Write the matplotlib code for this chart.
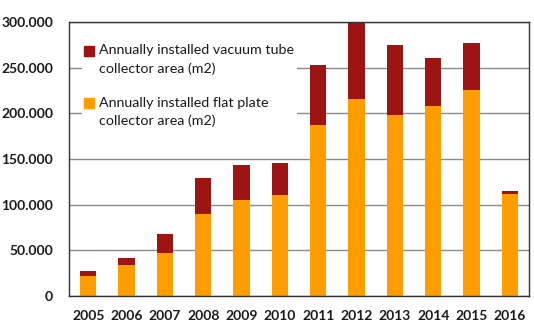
import matplotlib.pyplot as plt
import matplotlib.ticker as mticker
from matplotlib.patches import Patch, Rectangle
from matplotlib.legend_handler import HandlerPatch
import numpy as np

plt.rcParams['font.family'] = ['Lato', 'DejaVu Sans']

years = ['2005', '2006', '2007', '2008', '2009', '2010',
         '2011', '2012', '2013', '2014', '2015', '2016']
# flat plate collector area (m2) per year
flat_plate = [22200, 34000, 46700, 89400, 105000, 110600,
              187300, 215800, 198600, 208000, 225600, 111700]
# vacuum tube collector area (m2) per year
vacuum_tube = [5500, 7300, 21200, 40200, 38500, 34700,
               65700, 86000, 75900, 52300, 51800, 3000]

c_flat = '#FF9C00'
c_vac = '#9E1412'
leg_fs = 10.25
leg_ls = 1.6

fig = plt.figure(figsize=(5.34, 3.33), dpi=100)
ax = fig.add_axes([69/534, 1 - 296/333, 460/534, 274/333])

x = np.arange(len(years))
ax.bar(x, flat_plate, width=0.42, color=c_flat, zorder=2)
ax.bar(x, vacuum_tube, width=0.42, bottom=flat_plate, color=c_vac, zorder=2)

ax.set_xlim(-0.5, len(years) - 0.5)
ax.set_ylim(0, 300000)
ax.yaxis.set_major_locator(mticker.MultipleLocator(50000))
ax.yaxis.set_major_formatter(mticker.FuncFormatter(
    lambda v, p: '0' if v == 0 else f'{int(v):,}'.replace(',', '.')))
ax.set_xticks(x)
ax.set_xticklabels(years)
ax.grid(axis='y', color='#8a8a8a', linewidth=1.0, zorder=1)
ax.tick_params(axis='both', length=0, labelsize=10)
ax.tick_params(axis='y', pad=11.5)
ax.tick_params(axis='x', pad=10)
for lab in ax.get_xticklabels() + ax.get_yticklabels():
    lab.set_fontweight('bold')
    lab.set_color('#1a1a1a')
for s in ax.spines.values():
    s.set_color('#333333')
    s.set_linewidth(1.0)


# put the square next to the first line of the two-line label
def top_square(legend, orig_handle, xdescent, ydescent, width, height, fontsize):
    return Rectangle((-xdescent, -ydescent + 6.5), width, height)


handles = [Patch(color=c_vac, label='Annually installed vacuum tube\ncollector area (m2)'),
           Patch(color=c_flat, label='Annually installed flat plate\ncollector area (m2)')]
leg = ax.legend(handles=handles, loc='upper left', bbox_to_anchor=(0.012, 0.955),
                frameon=True, fancybox=False, facecolor='white', edgecolor='none',
                framealpha=1, fontsize=leg_fs, handlelength=0.7, handleheight=0.7,
                handletextpad=0.3, labelspacing=1.5, borderpad=0.2,
                handler_map={Patch: HandlerPatch(patch_func=top_square)})
for t in leg.get_texts():
    t.set_color('#1a1a1a')
    t.set_linespacing(leg_ls)
leg.set_zorder(3)

fig.savefig('out.png', dpi=100)
